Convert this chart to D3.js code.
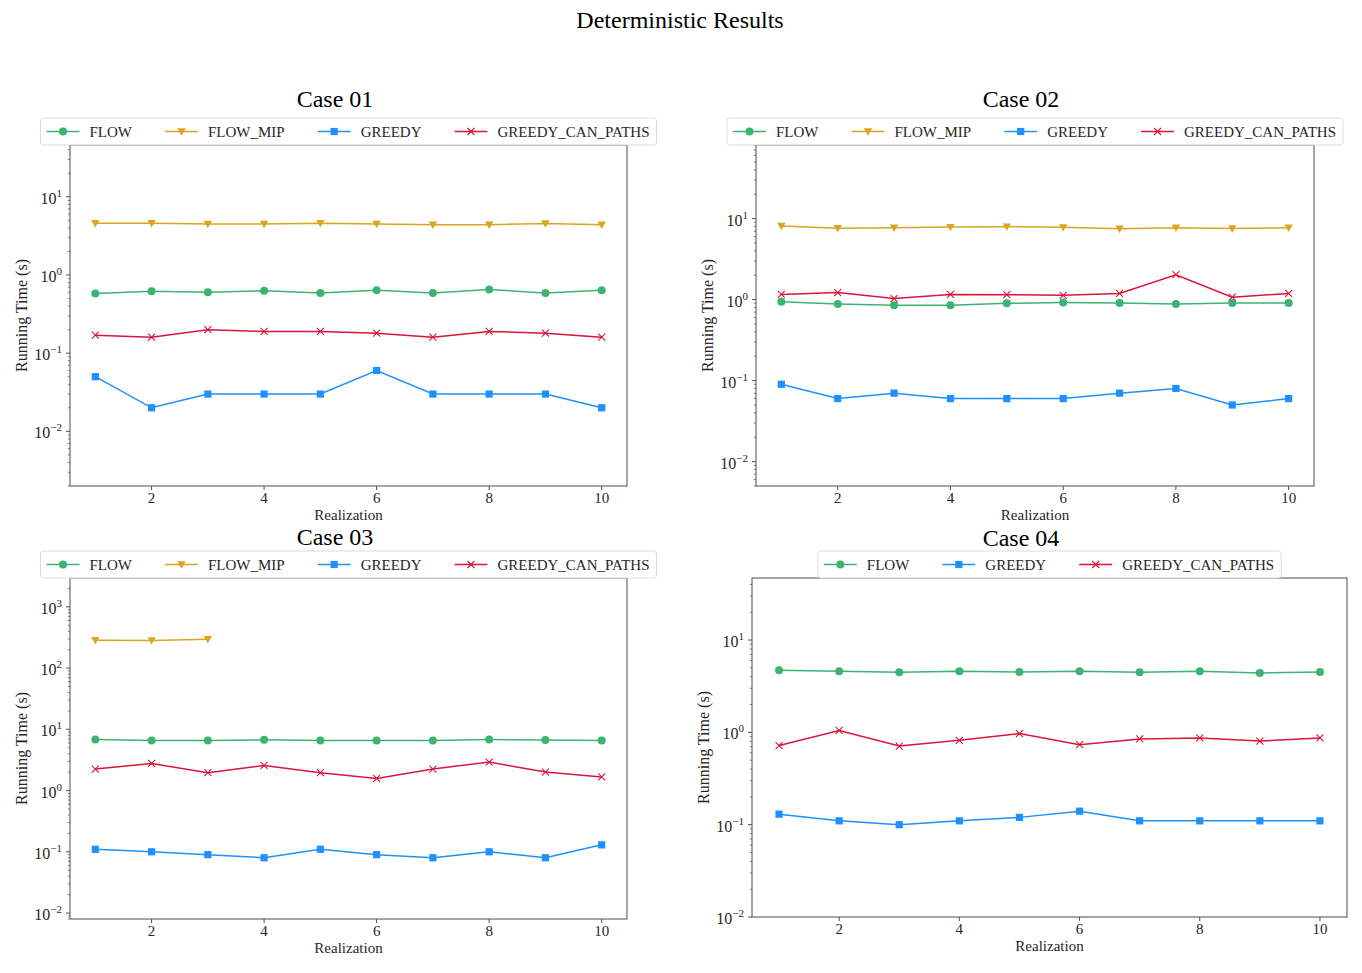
<!DOCTYPE html>
<html>
<head>
<meta charset="utf-8">
<script src="https://cdn.jsdelivr.net/npm/d3@7"></script>
<style>
  body { margin: 0; background: #fff; }
  text { font-family: "Liberation Serif", "Times New Roman", serif; fill: #262626; }
</style>
</head>
<body>
<svg id="chart" width="1362" height="973"></svg>
<script>
// ---- data ----
const realizations = [1, 2, 3, 4, 5, 6, 7, 8, 9, 10];
const xTicks = [2, 4, 6, 8, 10];
const caseTitles = ['Case 01', 'Case 02', 'Case 03', 'Case 04'];

const case01Flow    = [0.58, 0.62, 0.60, 0.63, 0.59, 0.64, 0.59, 0.65, 0.59, 0.64];
const case01FlowMip = [4.6, 4.6, 4.5, 4.5, 4.6, 4.5, 4.4, 4.4, 4.55, 4.4];
const case01Greedy  = [0.05, 0.02, 0.03, 0.03, 0.03, 0.06, 0.03, 0.03, 0.03, 0.02];
const case01Paths   = [0.17, 0.16, 0.20, 0.19, 0.19, 0.18, 0.16, 0.19, 0.18, 0.16];

const case02Flow    = [0.94, 0.88, 0.85, 0.85, 0.90, 0.92, 0.91, 0.88, 0.91, 0.91];
const case02FlowMip = [8.1, 7.6, 7.7, 7.85, 7.95, 7.8, 7.5, 7.7, 7.55, 7.7];
const case02Greedy  = [0.09, 0.06, 0.07, 0.06, 0.06, 0.06, 0.07, 0.08, 0.05, 0.06];
const case02Paths   = [1.16, 1.22, 1.03, 1.16, 1.15, 1.13, 1.19, 2.03, 1.07, 1.19];

const case03Flow    = [6.8, 6.6, 6.6, 6.75, 6.6, 6.6, 6.6, 6.8, 6.7, 6.6];
const case03FlowMip = [285, 283, 296];
const case03Greedy  = [0.11, 0.10, 0.09, 0.08, 0.11, 0.09, 0.08, 0.10, 0.08, 0.13];
const case03Paths   = [2.25, 2.78, 1.96, 2.57, 1.96, 1.58, 2.25, 2.92, 2.01, 1.67];

const case04Flow    = [4.7, 4.58, 4.47, 4.58, 4.51, 4.58, 4.47, 4.58, 4.4, 4.51];
const case04Greedy  = [0.13, 0.11, 0.10, 0.11, 0.12, 0.14, 0.11, 0.11, 0.11, 0.11];
const case04Paths   = [0.72, 1.05, 0.71, 0.82, 0.97, 0.735, 0.85, 0.87, 0.805, 0.87];

// ---- styles ----
const colors = {
  FLOW: '#3cb371',
  FLOW_MIP: '#daa520',
  GREEDY: '#1e90ff',
  GREEDY_CAN_PATHS: '#dc143c'
};

const panels = [
  { title: caseTitles[0], titleX: 335, titleY: 107, box: { l: 70, r: 627, t: 145, b: 486 },
    series: [['FLOW', case01Flow], ['FLOW_MIP', case01FlowMip], ['GREEDY', case01Greedy], ['GREEDY_CAN_PATHS', case01Paths]] },
  { title: caseTitles[1], titleX: 1021, titleY: 107, box: { l: 756, r: 1314, t: 145, b: 486 },
    series: [['FLOW', case02Flow], ['FLOW_MIP', case02FlowMip], ['GREEDY', case02Greedy], ['GREEDY_CAN_PATHS', case02Paths]] },
  { title: caseTitles[2], titleX: 335, titleY: 545, box: { l: 70, r: 627, t: 578, b: 919 },
    series: [['FLOW', case03Flow], ['FLOW_MIP', case03FlowMip], ['GREEDY', case03Greedy], ['GREEDY_CAN_PATHS', case03Paths]] },
  { title: caseTitles[3], titleX: 1021, titleY: 546, box: { l: 752, r: 1347, t: 578, b: 917 },
    series: [['FLOW', case04Flow], ['GREEDY', case04Greedy], ['GREEDY_CAN_PATHS', case04Paths]] }
];

const svg = d3.select('#chart');

svg.append('text')
  .attr('x', 680).attr('y', 28)
  .attr('text-anchor', 'middle')
  .style('font-size', '24px').style('fill', '#000')
  .text('Deterministic Results');

function drawMarker(g, name, color) {
  if (name === 'FLOW') {
    g.append('circle').attr('r', 4).attr('fill', color);
  } else if (name === 'FLOW_MIP') {
    g.append('path').attr('d', 'M-4.2,-3.2L4.2,-3.2L0,4.2Z').attr('fill', color);
  } else if (name === 'GREEDY') {
    g.append('rect').attr('x', -3.6).attr('y', -3.6).attr('width', 7.2).attr('height', 7.2).attr('fill', color);
  } else {
    g.append('path').attr('d', 'M-3.5,-3.5L3.5,3.5M-3.5,3.5L3.5,-3.5')
      .attr('stroke', color).attr('stroke-width', 1.1).attr('fill', 'none');
  }
}

function supLabel(sel, d) {
  const e = Math.round(Math.log10(d));
  sel.text('10');
  sel.append('tspan')
    .attr('dy', -7)
    .style('font-size', '11px')
    .text(e < 0 ? '\u2212' + (-e) : String(e));
}

panels.forEach(p => {
  const { l, r, t, b } = p.box;
  const g = svg.append('g');

  const allVals = p.series.flatMap(s => s[1]);
  const yMin = d3.min(allVals) / 10;
  const yMax = d3.max(allVals) * 10;

  const x = d3.scaleLinear().domain([0.55, 10.45]).range([l, r]);
  const y = d3.scaleLog().domain([yMin, yMax]).range([b, t]);

  // frame
  g.append('rect')
    .attr('x', l).attr('y', t).attr('width', r - l).attr('height', b - t)
    .attr('fill', 'none').attr('stroke', '#4d4d4d').attr('stroke-width', 1);

  // x ticks
  xTicks.forEach(v => {
    g.append('line')
      .attr('x1', x(v)).attr('x2', x(v)).attr('y1', b).attr('y2', b + 4)
      .attr('stroke', '#4d4d4d');
    g.append('text')
      .attr('x', x(v)).attr('y', b + 17)
      .attr('text-anchor', 'middle')
      .style('font-size', '15px')
      .text(v);
  });

  // y ticks (major + minor)
  const yt = y.ticks();
  yt.forEach(v => {
    const major = Math.abs(Math.log10(v) - Math.round(Math.log10(v))) < 1e-9;
    g.append('line')
      .attr('x1', l - (major ? 4 : 2.2)).attr('x2', l)
      .attr('y1', y(v)).attr('y2', y(v))
      .attr('stroke', '#4d4d4d').attr('stroke-width', major ? 1 : 0.7);
    if (major) {
      g.append('text')
        .attr('x', l - 8).attr('y', y(v) + 7)
        .attr('text-anchor', 'end')
        .style('font-size', '16px')
        .call(supLabel, v);
    }
  });

  // axis labels
  g.append('text')
    .attr('x', (l + r) / 2).attr('y', b + 34)
    .attr('text-anchor', 'middle')
    .style('font-size', '15px')
    .text('Realization');

  g.append('text')
    .attr('transform', `translate(${l - 43},${(t + b) / 2}) rotate(-90)`)
    .attr('text-anchor', 'middle')
    .style('font-size', '16px')
    .text('Running Time (s)');

  // series
  const line = d3.line().x(d => x(d[0])).y(d => y(d[1]));
  p.series.forEach(([name, vals]) => {
    const pts = vals.map((v, i) => [realizations[i], v]);
    g.append('path')
      .attr('d', line(pts))
      .attr('fill', 'none')
      .attr('stroke', colors[name])
      .attr('stroke-width', 1.5);
    pts.forEach(d => {
      const m = g.append('g').attr('transform', `translate(${x(d[0])},${y(d[1])})`);
      drawMarker(m, name, colors[name]);
    });
  });

  // title
  svg.append('text')
    .attr('x', p.titleX).attr('y', p.titleY)
    .attr('text-anchor', 'middle')
    .style('font-size', '24px').style('fill', '#000')
    .text(p.title);

  // legend
  const leg = svg.append('g');
  const frame = leg.append('rect');
  const items = leg.append('g');
  const handleLen = 33, textPad = 10, colGap = 33, pad = 6;
  let cx = pad;
  p.series.forEach(([name]) => {
    const it = items.append('g').attr('transform', `translate(${cx},0)`);
    it.append('line')
      .attr('x1', 0).attr('x2', handleLen).attr('y1', 0).attr('y2', 0)
      .attr('stroke', colors[name]).attr('stroke-width', 1.5);
    drawMarker(it.append('g').attr('transform', `translate(${handleLen / 2},0)`), name, colors[name]);
    const txt = it.append('text')
      .attr('x', handleLen + textPad).attr('y', 5)
      .style('font-size', '15px')
      .text(name);
    cx += handleLen + textPad + txt.node().getComputedTextLength() + colGap;
  });
  const legW = cx - colGap + pad + 1;
  const legH = 27;
  const legX = (l + r) / 2 - legW / 2;
  const legY = t - legH;
  leg.attr('transform', `translate(${legX},${legY})`);
  items.attr('transform', `translate(0,${legH / 2})`);
  frame.attr('x', 0).attr('y', 0).attr('width', legW).attr('height', legH)
    .attr('rx', 3).attr('fill', '#fff').attr('fill-opacity', 0.9)
    .attr('stroke', '#dcdcdc').attr('stroke-width', 1);
});
</script>
</body>
</html>
